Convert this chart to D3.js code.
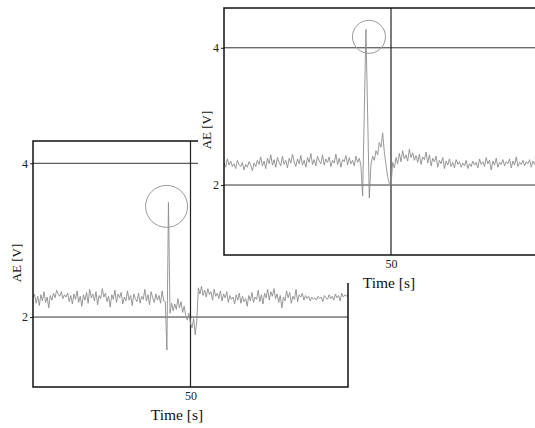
<!DOCTYPE html>
<html>
<head>
<meta charset="utf-8">
<script src="https://cdn.jsdelivr.net/npm/d3@7"></script>
<style>
  body { margin: 0; background: #fff; }
  svg { display: block; }
  .tick text { font-family: "Liberation Serif", serif; font-size: 12px; fill: #222; }
  .axis-title { font-family: "Liberation Serif", serif; fill: #111; }
</style>
</head>
<body>
<div id="chart"></div>
<script>
// sampling interval of both AE records (s)
const sampleStep = 0.5;

// back (lower left) record, AE [V]
const backValues = [
  2.24, 2.30, 2.18, 2.27, 2.15, 2.29, 2.21, 2.33, 2.19, 2.26,
  2.12, 2.28, 2.22, 2.31, 2.25, 2.35, 2.30, 2.27, 2.33, 2.24,
  2.29, 2.26, 2.31, 2.20, 2.28, 2.17, 2.30, 2.23, 2.34, 2.19,
  2.27, 2.14, 2.29, 2.22, 2.32, 2.18, 2.36, 2.25, 2.30, 2.21,
  2.33, 2.16, 2.28, 2.24, 2.37, 2.26, 2.31, 2.20, 2.27, 2.13,
  2.29, 2.23, 2.35, 2.19, 2.30, 2.25, 2.32, 2.17, 2.26, 2.21,
  2.34, 2.22, 2.28, 2.15, 2.30, 2.24, 2.20, 2.31, 2.18, 2.27,
  2.23, 2.36, 2.21, 2.29, 2.16, 2.33, 2.25, 2.19, 2.30, 2.22,
  2.28, 2.18, 2.34, 2.21, 2.20, 1.57, 3.49, 2.05, 2.18, 2.08,
  2.17, 2.10, 2.24, 2.12, 2.20, 2.06, 2.14, 2.02, 1.96, 2.05,
  1.92, 1.86, 1.98, 1.77, 1.95, 2.38, 2.30, 2.40, 2.28, 2.35,
  2.26, 2.37, 2.29, 2.33, 2.22, 2.36, 2.27, 2.31, 2.24, 2.34,
  2.21, 2.30, 2.25, 2.33, 2.19, 2.28, 2.23, 2.26, 2.17, 2.29,
  2.22, 2.31, 2.18, 2.27, 2.20, 2.24, 2.14, 2.28, 2.21, 2.32,
  2.19, 2.26, 2.23, 2.35, 2.20, 2.29, 2.17, 2.31, 2.25, 2.36,
  2.22, 2.33, 2.27, 2.37, 2.24, 2.30, 2.19, 2.28, 2.12, 2.26,
  2.21, 2.34, 2.25, 2.32, 2.18, 2.27, 2.23, 2.36, 2.20, 2.29,
  2.26, 2.31, 2.22, 2.28, 2.24, 2.27, 2.21, 2.26, 2.23, 2.25,
  2.22, 2.27, 2.24, 2.26, 2.20, 2.28, 2.25, 2.23, 2.29, 2.24,
  2.27, 2.22, 2.30, 2.25, 2.28, 2.21, 2.31, 2.26, 2.29, 2.27,
  2.30
];

// front (upper right) record, AE [V]
const frontValues = [
  2.33, 2.26, 2.38, 2.29, 2.35, 2.27, 2.31, 2.24, 2.36, 2.30,
  2.27, 2.33, 2.22, 2.30, 2.26, 2.34, 2.29, 2.21, 2.32, 2.27,
  2.36, 2.30, 2.41, 2.28, 2.35, 2.24, 2.39, 2.31, 2.44, 2.29,
  2.37, 2.26, 2.40, 2.33, 2.28, 2.42, 2.30, 2.36, 2.25, 2.39,
  2.32, 2.45, 2.34, 2.27, 2.38, 2.31, 2.43, 2.29, 2.36, 2.26,
  2.40, 2.33, 2.46, 2.30, 2.37, 2.28, 2.42, 2.35, 2.31, 2.44,
  2.29, 2.38, 2.33, 2.41, 2.27, 2.36, 2.32, 2.45, 2.30, 2.39,
  2.26, 2.37, 2.34, 2.43, 2.29, 2.40, 2.31, 2.36, 2.28, 2.42,
  2.33, 2.39, 2.28, 1.84, 3.05, 4.27, 3.04, 1.81, 2.30, 2.42,
  2.36, 2.50, 2.44, 2.62, 2.55, 2.76, 2.48, 2.30, 2.12, 2.02,
  1.99, 2.33, 2.25, 2.40, 2.31, 2.46, 2.34, 2.50, 2.38, 2.44,
  2.35, 2.52, 2.40, 2.47, 2.36, 2.43, 2.33, 2.45, 2.30, 2.41,
  2.37, 2.48, 2.32, 2.44, 2.28, 2.39, 2.34, 2.42, 2.26, 2.36,
  2.31, 2.40, 2.24, 2.35, 2.29, 2.38, 2.27, 2.33, 2.25, 2.37,
  2.30, 2.34, 2.26, 2.32, 2.28, 2.36, 2.24, 2.31, 2.27, 2.35,
  2.29, 2.33, 2.25, 2.38, 2.30, 2.34, 2.27, 2.40, 2.31, 2.36,
  2.22, 2.35, 2.29, 2.39, 2.26, 2.33, 2.30, 2.37, 2.28, 2.34,
  2.31, 2.38, 2.25, 2.35, 2.29, 2.41, 2.27, 2.33, 2.30, 2.36,
  2.28, 2.34, 2.31, 2.37, 2.26, 2.35, 2.30, 2.38, 2.27, 2.33,
  2.29, 2.36, 2.31, 2.34, 2.28, 2.37, 2.30, 2.35, 2.32, 2.38,
  2.33
];

// axis ticks shared by both panels
const yTicks = [2, 4];
const xTicks = [50];

// circled peak: [time (s), AE (V)]
const backPeakMark = [42.4, 3.44];
const frontPeakMark = [43.4, 4.16];

const svg = d3.select("#chart")
  .append("svg")
  .attr("width", 535)
  .attr("height", 428);

function drawPanel(cfg, values, mark) {
  const g = svg.append("g")
    .attr("transform", `translate(${cfg.left},${cfg.top})`);

  // white backing so the front panel hides the one behind it
  if (cfg.cover) {
    g.append("rect")
      .attr("x", cfg.cover.x)
      .attr("y", -cfg.top)
      .attr("width", cfg.width - cfg.cover.x + 20)
      .attr("height", cfg.top + cfg.cover.bottom)
      .attr("fill", "#fff");
  }

  const x = d3.scaleLinear().domain([0, 100]).range([0, cfg.width]);
  const y = d3.scaleLinear().domain(cfg.yDomain).range([cfg.height, 0]);

  const clipId = "clip-" + cfg.name;
  g.append("clipPath").attr("id", clipId)
    .append("rect").attr("width", cfg.width).attr("height", cfg.height);

  // y axis with short outward ticks
  const yAxis = g.append("g")
    .call(d3.axisLeft(y).tickValues(yTicks).tickSize(3).tickPadding(2).tickFormat(d3.format("d")));
  yAxis.select(".domain").remove();
  yAxis.selectAll(".tick line").attr("stroke", "#222");

  const xAxis = g.append("g")
    .attr("transform", `translate(0,${cfg.height})`)
    .call(d3.axisBottom(x).tickValues(xTicks).tickSize(0).tickPadding(4));
  xAxis.select(".domain").remove();

  // grid lines through the ticks
  g.selectAll(".hgrid")
    .data(yTicks)
    .join("line")
    .attr("x1", 0).attr("x2", cfg.width)
    .attr("y1", d => y(d)).attr("y2", d => y(d))
    .attr("stroke", "#333").attr("stroke-width", 1);
  g.selectAll(".vgrid")
    .data(xTicks)
    .join("line")
    .attr("x1", d => x(d)).attr("x2", d => x(d))
    .attr("y1", 0).attr("y2", cfg.height)
    .attr("stroke", "#222").attr("stroke-width", 1.2);

  // AE trace
  const line = d3.line()
    .x((d, i) => x(i * sampleStep))
    .y(d => y(d));
  g.append("path")
    .datum(values)
    .attr("clip-path", `url(#${clipId})`)
    .attr("fill", "none")
    .attr("stroke", "#8c8c8c")
    .attr("stroke-width", 0.9)
    .attr("stroke-linejoin", "round")
    .attr("d", line);

  // circle round the peak
  g.append("circle")
    .attr("cx", x(mark[0]))
    .attr("cy", y(mark[1]))
    .attr("r", cfg.markRadius)
    .attr("fill", "none")
    .attr("stroke", "#999")
    .attr("stroke-width", 1);

  // frame
  g.append("rect")
    .attr("width", cfg.width)
    .attr("height", cfg.height)
    .attr("fill", "none")
    .attr("stroke", "#111")
    .attr("stroke-width", 1.5);

  // axis titles
  g.append("text")
    .attr("class", "axis-title")
    .attr("x", cfg.xTitleX)
    .attr("y", cfg.height + 33)
    .attr("text-anchor", "middle")
    .attr("font-size", 15.5)
    .text("Time [s]");

  g.append("text")
    .attr("class", "axis-title")
    .attr("transform", `translate(${cfg.yTitleX},${cfg.yTitleY}) rotate(-90)`)
    .attr("text-anchor", "middle")
    .attr("font-size", 13)
    .attr("fill", "#555")
    .text("AE [V]");
}

drawPanel({
  name: "back", left: 33, top: 141, width: 315, height: 246,
  yDomain: [1.09, 4.29], markRadius: 21,
  xTitleX: 144, yTitleX: -12, yTitleY: 122
}, backValues, backPeakMark);

drawPanel({
  name: "front", left: 224, top: 8, width: 334, height: 247,
  yDomain: [0.98, 4.58], markRadius: 16.5,
  cover: { x: -26, bottom: 275 },
  xTitleX: 165, yTitleX: -13, yTitleY: 122
}, frontValues, frontPeakMark);
</script>
</body>
</html>
